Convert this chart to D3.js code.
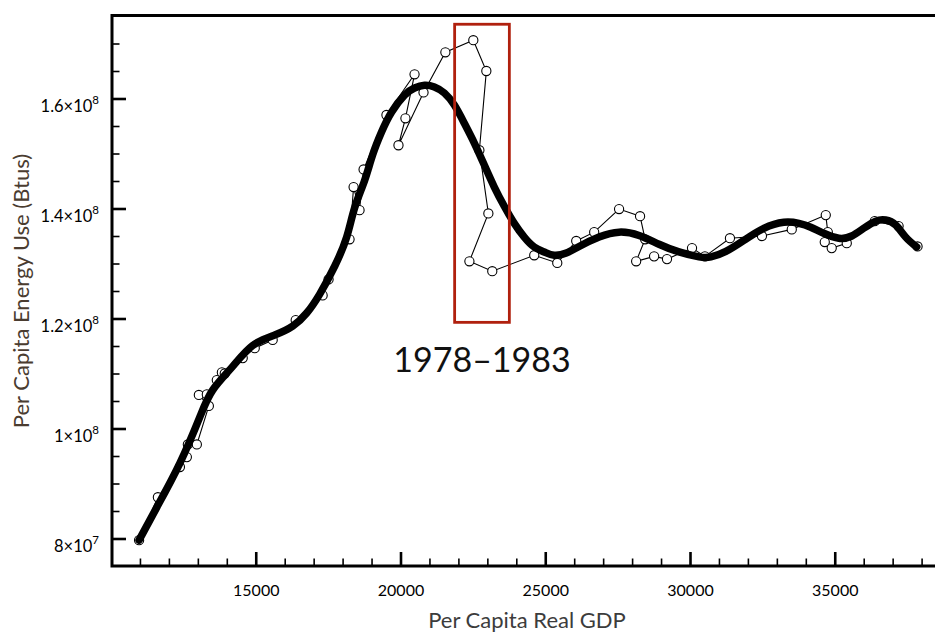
<!DOCTYPE html>
<html>
<head>
<meta charset="utf-8">
<script src="https://cdnjs.cloudflare.com/ajax/libs/d3/7.8.5/d3.min.js"></script>
<style>
	body { margin: 0; background: #fff; }
	svg { display: block; font-family: Lato, "Open Sans", sans-serif; }
</style>
</head>
<body>
<svg id="chart" width="935" height="633"></svg>
<script>
// yearly points, per capita real GDP vs per capita energy use (millions of Btu)
const gdp = [10970, 11620, 12380, 12620, 12655, 12965, 13380, 13035, 13310, 13655, 13830, 13930,
	14550, 14965, 15585, 16380, 17310, 17515, 18240, 18380, 18585, 18725, 19515, 20485,
	20170, 19930, 20795, 21550, 22515, 22965, 22725, 23035, 22380, 23170, 24620, 25415,
	26070, 26690, 27550, 28275, 28450, 28140, 28760, 29205, 30070, 30515, 31380, 32485,
	33515, 34690, 34760, 34655, 34895, 35415, 36380, 37205, 37860];
const energy = [79.7, 87.5, 93.0, 94.8, 97.1, 97.1, 104.1, 106.1, 106.2, 108.8, 110.2, 110.0,
	112.8, 114.6, 116.1, 119.7, 124.2, 127.1, 134.4, 143.9, 139.7, 147.1, 157.0, 164.4,
	156.4, 151.5, 161.1, 168.4, 170.6, 165.0, 150.6, 139.1, 130.4, 128.6, 131.5, 130.1,
	134.1, 135.7, 139.9, 138.6, 134.4, 130.4, 131.3, 130.8, 132.8, 131.3, 134.6, 135.0,
	136.2, 138.8, 135.7, 133.9, 132.8, 133.7, 137.7, 136.8, 133.1];

// smooth fitted curve
const fitGdp = [10970, 11585, 12380, 13070, 13515, 14205, 14895, 15655, 16275, 16760, 17205, 17725,
	18140, 18415, 18760, 19035, 19345, 19690, 20140, 20485, 20830, 21170, 21515, 21860,
	22205, 22550, 22895, 23240, 23585, 23930, 24275, 24620, 24965, 25310, 25725, 26170,
	26860, 27550, 28240, 28930, 29620, 30310, 30725, 31240, 31860, 32550, 33240, 33760,
	34170, 34620, 35140, 35585, 36000, 36415, 36760, 37105, 37450, 37830];
const fitEnergy = [79.7, 85.7, 93.7, 102.1, 107.0, 111.3, 115.1, 117.0, 118.6, 121.0, 124.4, 129.5,
	134.8, 140.1, 145.1, 149.7, 153.9, 157.5, 160.6, 161.9, 162.4, 162.1, 161.0, 158.8,
	155.5, 151.9, 147.9, 143.9, 140.4, 137.3, 134.8, 133.0, 132.1, 131.5, 131.9, 133.1,
	134.8, 135.7, 135.1, 133.5, 132.1, 131.2, 131.2, 132.2, 134.2, 136.4, 137.5, 137.3,
	136.6, 135.5, 134.6, 135.0, 136.4, 137.7, 137.9, 137.0, 134.8, 133.0];

// highlighted period
const boxGdp = [21870, 23760];
const boxEnergy = [119.3, 173.5];
const boxLabel = "1978\u20131983";

const xTicks = [15000, 20000, 25000, 30000, 35000];
const yTicks = [80, 100, 120, 140, 160];
const yTickBase = ["8", "1", "1.2", "1.4", "1.6"];
const yTickExp = ["7", "8", "8", "8", "8"];

const xTitle = "Per Capita Real GDP";
const yTitle = "Per Capita Energy Use (Btus)";

let svg = d3.select("#chart");

let xScale = d3.scaleLinear().domain([10000, 40000]).range([111, 979.5]),
	yScale = d3.scaleLinear().domain([75, 175]).range([566, 16]);

let xMinor = d3.range(11000, 40000, 1000).filter(function (v) { return v % 5000 !== 0; });
let yMinor = d3.range(80, 175, 5).filter(function (v) { return v % 20 !== 0; });

let points = gdp.map(function (g, i) { return { x: g, y: energy[i] }; });
let fit = fitGdp.map(function (g, i) { return { x: g, y: fitEnergy[i] }; });

// thin yearly path
let thinLine = d3.line()
	.x(function (d) { return xScale(d.x); })
	.y(function (d) { return yScale(d.y); });

svg.append("path")
	.attr("d", thinLine(points))
	.attr("fill", "none")
	.attr("stroke", "#000")
	.attr("stroke-width", 1.1);

svg.selectAll("circle.year")
	.data(points)
	.enter().append("circle")
	.attr("class", "year")
	.attr("cx", function (d) { return xScale(d.x); })
	.attr("cy", function (d) { return yScale(d.y); })
	.attr("r", 4.6)
	.attr("fill", "#fff")
	.attr("stroke", "#000")
	.attr("stroke-width", 1.1);

// fitted curve on top
let fitLine = d3.line()
	.curve(d3.curveNatural)
	.x(function (d) { return xScale(d.x); })
	.y(function (d) { return yScale(d.y); });

svg.append("path")
	.attr("d", fitLine(fit))
	.attr("fill", "none")
	.attr("stroke", "#000")
	.attr("stroke-width", 7.5)
	.attr("stroke-linecap", "round")
	.attr("stroke-linejoin", "round");

// red box
svg.append("rect")
	.attr("x", xScale(boxGdp[0]))
	.attr("y", yScale(boxEnergy[1]))
	.attr("width", xScale(boxGdp[1]) - xScale(boxGdp[0]))
	.attr("height", yScale(boxEnergy[0]) - yScale(boxEnergy[1]))
	.attr("fill", "none")
	.attr("stroke", "#b0200e")
	.attr("stroke-width", 2.8);

svg.append("text")
	.attr("x", (xScale(boxGdp[0]) + xScale(boxGdp[1])) / 2)
	.attr("y", yScale(boxEnergy[0]) + 50)
	.attr("text-anchor", "middle")
	.attr("font-size", 34)
	.attr("fill", "#111")
	.text(boxLabel);

// axes
let xAxis = d3.axisBottom(xScale).tickValues(xTicks).tickSizeInner(-14).tickSizeOuter(0)
		.tickPadding(18.5).tickFormat(d3.format("d")),
	xAxisMinor = d3.axisBottom(xScale).tickValues(xMinor).tickSizeInner(-7.5).tickSizeOuter(0).tickFormat(""),
	yAxis = d3.axisLeft(yScale).tickValues(yTicks).tickSizeInner(-14).tickSizeOuter(0).tickFormat(""),
	yAxisMinor = d3.axisLeft(yScale).tickValues(yMinor).tickSizeInner(-7.5).tickSizeOuter(0).tickFormat("");

let gx = svg.append("g").attr("transform", "translate(0," + yScale(75) + ")").call(xAxis);
let gxm = svg.append("g").attr("transform", "translate(0," + yScale(75) + ")").call(xAxisMinor);
let gy = svg.append("g").attr("transform", "translate(" + (xScale(10000) + 1) + ",0)").call(yAxis);
let gym = svg.append("g").attr("transform", "translate(" + (xScale(10000) + 1) + ",0)").call(yAxisMinor);

[gx, gxm, gy, gym].forEach(function (g) {
	g.select(".domain").remove();
});
gx.selectAll(".tick line").attr("stroke-width", 2.6);
gy.selectAll(".tick line").attr("stroke-width", 2.6);
gxm.selectAll(".tick line").attr("stroke-width", 1.6);
gym.selectAll(".tick line").attr("stroke-width", 1.6);
gx.selectAll(".tick text")
	.attr("font-family", "Lato, sans-serif")
	.attr("font-size", 16)
	.attr("fill", "#000");

// y tick labels with exponents
let yLabels = svg.append("g");
yTicks.forEach(function (v, i) {
	let t = yLabels.append("text")
		.attr("x", 99)
		.attr("y", yScale(v) + 13)
		.attr("text-anchor", "end")
		.attr("font-size", 16.5)
		.attr("fill", "#000");
	t.append("tspan").text(yTickBase[i] + "\u00d710");
	t.append("tspan").attr("dy", -8).attr("font-size", 11.5).text(yTickExp[i]);
});

// frame
svg.append("rect")
	.attr("x", xScale(10000) + 1)
	.attr("y", yScale(175) - 0.5)
	.attr("width", xScale(40000) - xScale(10000))
	.attr("height", yScale(75) - yScale(175) + 0.5)
	.attr("fill", "none")
	.attr("stroke", "#000")
	.attr("stroke-width", 3);

// titles
svg.append("text")
	.attr("x", 527)
	.attr("y", 628)
	.attr("text-anchor", "middle")
	.attr("font-size", 22)
	.attr("fill", "#3c3c3c")
	.text(xTitle);

svg.append("text")
	.attr("transform", "translate(29,291) rotate(-90)")
	.attr("text-anchor", "middle")
	.attr("font-size", 22)
	.attr("fill", "#4a3c30")
	.text(yTitle);
</script>
</body>
</html>
